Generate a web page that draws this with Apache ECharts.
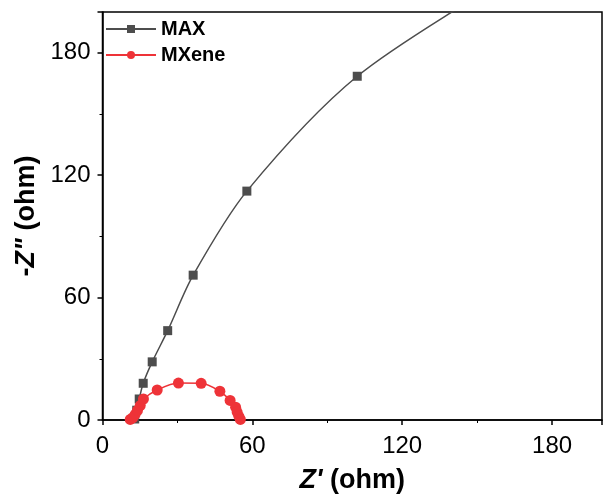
<!DOCTYPE html>
<html>
<head>
<meta charset="utf-8">
<script src="https://cdn.jsdelivr.net/npm/echarts@6/dist/echarts.min.js"></script>
<style>
  html, body { margin: 0; padding: 0; background: #fff; }
  #chart { width: 605px; height: 499px; }
</style>
</head>
<body>
<div id="chart"></div>
<script>
// Nyquist data: [Z', -Z'']
var maxData = [
  [12.9, 0.5], [13.7, 4.8], [14.7, 10.3], [16.3, 18.0], [19.9, 28.5],
  [26.1, 43.8], [36.3, 71.0], [57.8, 112.2], [102.0, 168.5], [160.0, 215.0]
];
var mxeneData = [
  [11.1, 0.3], [12.1, 1.1], [13.1, 2.8], [14.0, 4.7], [15.1, 7.1],
  [16.4, 10.3], [21.9, 14.7], [30.4, 18.1], [39.5, 18.0], [47.0, 14.1],
  [51.1, 9.6], [53.3, 6.3], [53.9, 3.9], [54.6, 1.8], [55.2, 0.3]
];
var xTicks = [0, 60, 120, 180];
var yTicks = [0, 60, 120, 180];

var chart = echarts.init(document.getElementById('chart'));

var font = 'Liberation Sans, Arial';

var axisCommon = {
  axisLine: { show: true, onZero: false, lineStyle: { color: '#000', width: 1.5 } },
  axisTick: { show: true, inside: false, length: 5, lineStyle: { color: '#000', width: 1.5 } },
  minorTick: { show: true, splitNumber: 2, length: 3, lineStyle: { color: '#000', width: 1 } },
  splitLine: { show: false }
};

var nameStyle = {
  color: '#000', fontSize: 27, fontWeight: 'bold', fontFamily: font,
  rich: { i: { fontStyle: 'italic', fontWeight: 'bold', fontSize: 27, fontFamily: font } }
};

var option = {
  animation: false,
  backgroundColor: '#fff',
  grid: { left: 102.5, right: -7.5, top: 12, bottom: 76, show: true, borderColor: '#000', borderWidth: 1.5 },
  legend: {
    left: 105, top: 19, orient: 'vertical', itemGap: 6, padding: 0,
    itemWidth: 50, itemHeight: 10,
    textStyle: { color: '#000', fontSize: 20, fontWeight: 'bold', fontFamily: font },
    data: ['MAX', 'MXene']
  },
  xAxis: Object.assign({}, axisCommon, {
    type: 'value', min: 0, max: 200, interval: 60,
    axisLabel: {
      color: '#000', fontSize: 24, fontFamily: font, margin: 14,
      formatter: function (v) { return xTicks.indexOf(v) >= 0 ? String(v) : ''; }
    },
    name: "{i|Z'} (ohm)", nameLocation: 'middle', nameGap: 47,
    nameTextStyle: nameStyle
  }),
  yAxis: Object.assign({}, axisCommon, {
    type: 'value', min: 0, max: 200, interval: 60,
    axisLabel: {
      color: '#000', fontSize: 24, fontFamily: font, margin: 12,
      formatter: function (v) { return yTicks.indexOf(v) >= 0 ? String(v) : ''; }
    },
    name: "-{i|Z\"} (ohm)", nameLocation: 'middle', nameGap: 51,
    nameTextStyle: nameStyle
  }),
  series: [
    {
      name: 'MAX', type: 'line', data: maxData, smooth: 0.3, clip: true,
      symbol: 'rect', symbolSize: 9,
      itemStyle: { color: '#4d4d4d' },
      lineStyle: { color: '#4d4d4d', width: 1.5 }
    },
    {
      name: 'MXene', type: 'line', data: mxeneData, smooth: 0.3, clip: true,
      symbol: 'circle', symbolSize: 11,
      itemStyle: { color: '#ee3338' },
      lineStyle: { color: '#ee3338', width: 1.5 }
    }
  ]
};

chart.setOption(option);
</script>
</body>
</html>
